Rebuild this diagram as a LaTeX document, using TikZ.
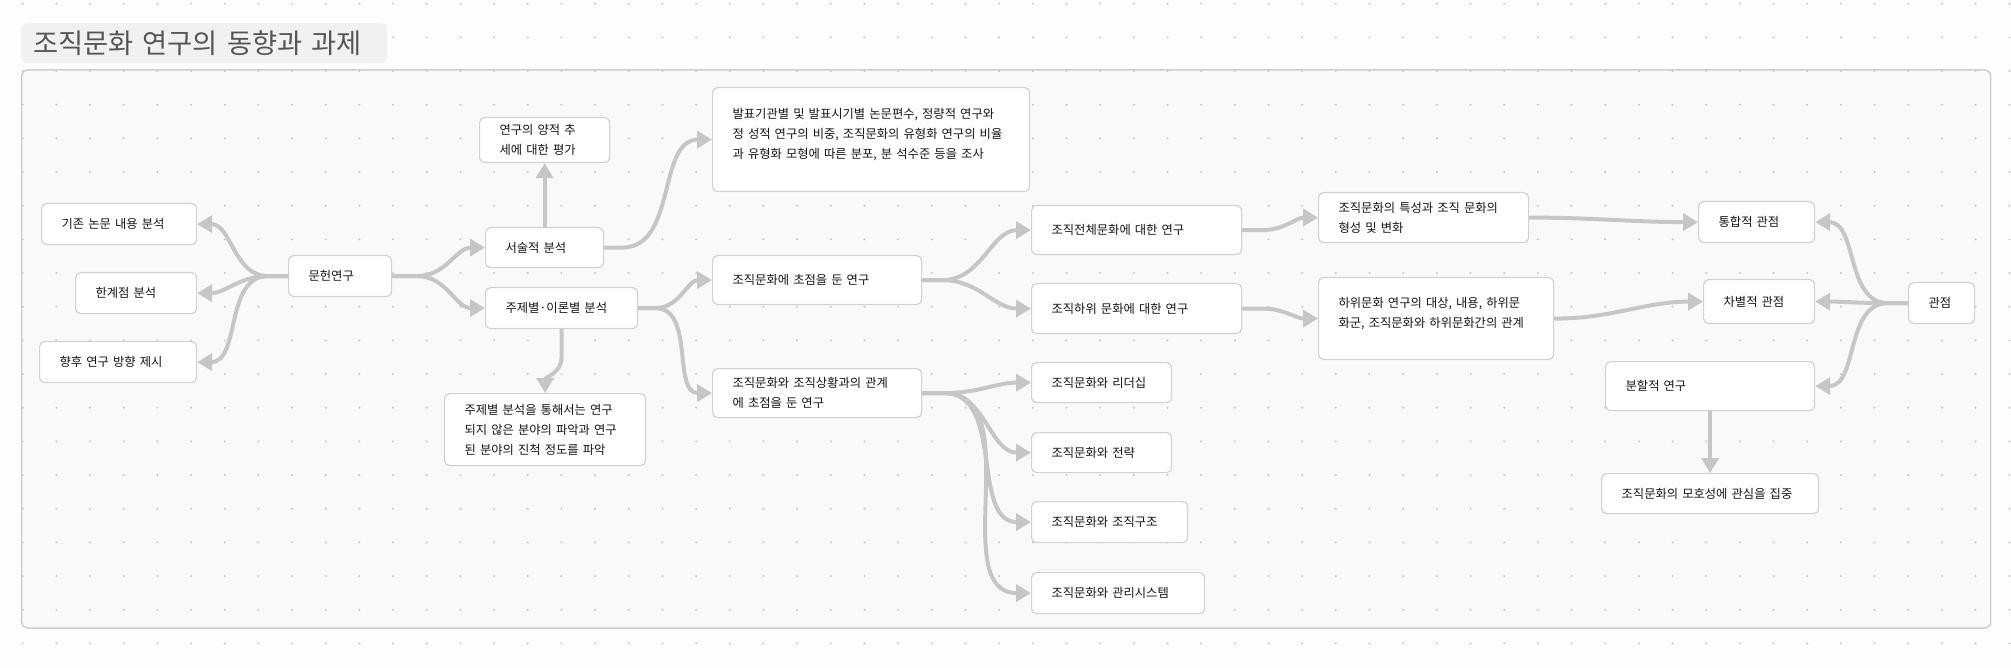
\documentclass[tikz,border=0pt]{standalone}
\usepackage{fontspec}
\setmainfont{Noto Sans CJK KR}
\usepackage{xcolor}
\usetikzlibrary{arrows.meta}

\definecolor{pagebg}{HTML}{FDFDFD}
\definecolor{framebg}{HTML}{F9F9F9}
\definecolor{frameline}{HTML}{CFCFCF}
\definecolor{dotgrey}{HTML}{C8C8C8}
\definecolor{titlebg}{HTML}{F1F1F1}
\definecolor{titletext}{HTML}{555555}
\definecolor{boxline}{HTML}{D2D2D2}
\definecolor{boxtext}{HTML}{151515}
\definecolor{conngrey}{HTML}{C6C6C6}

\tikzset{
  box/.style={draw=boxline, fill=white, line width=1.2pt, rounded corners=5pt,
    anchor=north west, inner xsep=20pt, inner ysep=0pt, align=left,
    text=boxtext, font=\fontsize{12.3}{20}\selectfont},
  titlebox/.style={fill=titlebg, rounded corners=6pt, inner xsep=12pt, inner ysep=0pt,
    text width=342pt, minimum height=40pt, align=left, anchor=north west,
    text=titletext, font=\fontsize{27.3}{30}\selectfont},
  conn/.style={draw=conngrey, line width=4pt,
    -{Triangle[length=15pt, width=17pt]}}
}

\begin{document}
\begin{tikzpicture}[x=1pt, y=-1pt]
\useasboundingbox (0,0) rectangle (2011,668);
\fill[pagebg] (0,0) rectangle (2011,668);
\draw[fill=framebg, draw=frameline, line width=1.5pt, rounded corners=6pt] (21.7,70) rectangle (1990.7,628);
% Punktraster im Hintergrund
\foreach \i in {0,...,59}
  \foreach \j in {0,...,19}
    \fill[dotgrey] (22.7+33.67*\i, 3.7+33.67*\j) circle[radius=1.1pt];

\node[titlebox] (title) at (21,23) {조직문화 연구의 동향과 과제};

\node[box, text width=115pt, minimum height=41pt] (gijon) at (41,203) {기존 논문 내용 분석};
\node[box, text width=81pt, minimum height=41pt] (hangye) at (75,272) {한계점 분석};
\node[box, text width=117pt, minimum height=41pt] (hyanghu) at (39,341) {향후 연구 방향 제시};
\node[box, text width=63pt, minimum height=41pt] (munheon) at (288,255) {문헌연구};
\node[box, text width=78pt, minimum height=40pt] (seosul) at (485,227) {서술적 분석};
\node[box, text width=112pt, minimum height=41pt] (juje) at (485,287) {주제별·이론별 분석};
\node[box, text width=90pt, minimum height=45pt] (yangjeok) at (479,117) {연구의 양적 추\\세에 대한 평가};
\node[box, text width=161pt, minimum height=72pt] (jujebunseok) at (444,393) {주제별 분석을 통해서는 연구\\되지 않은 분야의 파악과 연구\\된 분야의 진척 정도를 파악};
\node[box, text width=277pt, minimum height=104pt] (balpyo) at (712,87) {발표기관별 및 발표시기별 논문편수, 정량적 연구와\\정 성적 연구의 비중, 조직문화의 유형화 연구의 비율\\과 유형화 모형에 따른 분포, 분 석수준 등을 조사\\[-8pt]\mbox{}};
\node[box, text width=169pt, minimum height=49pt] (chojeom) at (712,255) {조직문화에 초점을 둔 연구};
\node[box, text width=169pt, minimum height=49pt] (gwangye) at (712,368) {조직문화와 조직상황과의 관계\\에 초점을 둔 연구};
\node[box, text width=170pt, minimum height=49pt] (jeonche) at (1031,205) {조직전체문화에 대한 연구};
\node[box, text width=170pt, minimum height=50pt] (hawi) at (1031,283) {조직하위 문화에 대한 연구};
\node[box, text width=100pt, minimum height=40pt] (leader) at (1031,362) {조직문화와 리더십};
\node[box, text width=100pt, minimum height=40pt] (jeollyak) at (1031,432) {조직문화와 전략};
\node[box, text width=116pt, minimum height=41pt] (gujo) at (1031,501) {조직문화와 조직구조};
\node[box, text width=133pt, minimum height=41pt] (gwalli) at (1031,572) {조직문화와 관리시스템};
\node[box, text width=170pt, minimum height=50pt] (teukseong) at (1318,192) {조직문화의 특성과 조직 문화의\\형성 및 변화};
\node[box, text width=195pt, minimum height=82pt] (hawimunhwa) at (1318,277) {하위문화 연구의 대상, 내용, 하위문\\화군, 조직문화와 하위문화간의 관계\\[-8pt]\mbox{}};
\node[box, text width=76pt, minimum height=41pt] (tonghap) at (1698,201) {통합적 관점};
\node[box, text width=71pt, minimum height=44pt] (chabyeol) at (1703,279) {차별적 관점};
\node[box, text width=26pt, minimum height=41pt] (gwanjeom) at (1908,282) {관점};
\node[box, text width=169pt, minimum height=49pt] (bunhal) at (1605,361) {분할적 연구};
\node[box, text width=177pt, minimum height=40pt] (mohoseong) at (1601,473) {조직문화의 모호성에 관심을 집중};

\draw[conn] (munheon.west) -- ++(-20,0) to[out=180, in=0] (gijon.east);
\draw[conn] (munheon.west) -- ++(-20,0) to[out=180, in=0] (hangye.east);
\draw[conn] (munheon.west) -- ++(-20,0) to[out=180, in=0] (hyanghu.east);
\draw[conn] (munheon.east) -- ++(25,0) to[out=0, in=180] (seosul.west);
\draw[conn] (munheon.east) -- ++(25,0) to[out=0, in=180] (juje.west);
\draw[conn] (seosul.north) -- (yangjeok.south);
\draw[conn] (seosul.east) -- ++(18,0) to[out=0, in=180] (balpyo.west);
\draw[conn] (juje.south) -- ++(0,28) to[out=-90, in=90] (jujebunseok.north);
\draw[conn] (juje.east) -- ++(17,0) to[out=0, in=180] (chojeom.west);
\draw[conn] (juje.east) -- ++(17,0) to[out=0, in=180] (gwangye.west);
\draw[conn] (chojeom.east) -- ++(20,0) to[out=0, in=180] (jeonche.west);
\draw[conn] (chojeom.east) -- ++(20,0) to[out=0, in=180] (hawi.west);
\draw[conn] (gwangye.east) -- ++(22,0) to[out=0, in=180] (leader.west);
\draw[conn] (gwangye.east) -- ++(22,0) to[out=0, in=180] (jeollyak.west);
\draw[conn] (gwangye.east) -- ++(22,0) to[out=0, in=180] (gujo.west);
\draw[conn] (gwangye.east) -- ++(22,0) to[out=0, in=180] (gwalli.west);
\draw[conn] (jeonche.east) -- ++(20,0) to[out=0, in=180] (teukseong.west);
\draw[conn] (hawi.east) -- ++(20,0) to[out=0, in=180] (hawimunhwa.west);
\draw[conn] (teukseong.east) to[out=0, in=180] (tonghap.west);
\draw[conn] (hawimunhwa.east) to[out=0, in=180] (chabyeol.west);
\draw[conn] (gwanjeom.west) -- ++(-20,0) to[out=180, in=0] (tonghap.east);
\draw[conn] (gwanjeom.west) -- ++(-20,0) to[out=180, in=0] (chabyeol.east);
\draw[conn] (gwanjeom.west) -- ++(-20,0) to[out=180, in=0] (bunhal.east);
\draw[conn] (bunhal.south) -- (mohoseong.north);
\end{tikzpicture}
\end{document}
